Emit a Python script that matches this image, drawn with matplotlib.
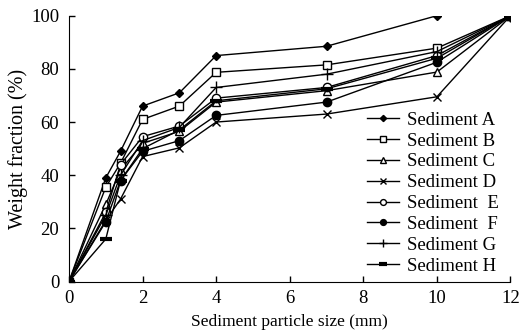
import matplotlib
matplotlib.use("Agg")
import matplotlib.pyplot as plt

plt.rcParams['font.family'] = ['Liberation Serif', 'DejaVu Serif']
plt.rcParams['mathtext.fontset'] = 'stix'

sizes = [0, 1, 1.4, 2, 3, 4, 7, 10, 12]
sizes_a = [0, 1, 1.4, 2, 3, 4, 7, 10]

sed_a = [0, 39, 49, 66, 71, 85, 88.5, 100]
sed_b = [0, 35.5, 44.5, 61, 66, 78.7, 81.5, 87.8, 100]
sed_c = [0, 29, 42, 52, 56.5, 67.5, 71.8, 78.8, 100]
sed_d = [0, 23, 31, 47, 50.3, 60, 63, 69.5, 100]
sed_e = [0, 26, 44, 54.5, 58.5, 69, 73, 85, 100]
sed_f = [0, 22.5, 38, 49, 53, 62.5, 67.5, 82.5, 100]
sed_g = [0, 25, 40, 53, 58, 73, 78, 86.5, 100]
sed_h = [0, 16, 38, 50, 57, 68, 72.5, 84, 100]

labels = ["Sediment A", "Sediment B", "Sediment C", "Sediment D",
          "Sediment  E", "Sediment  F", "Sediment G", "Sediment H"]

x_ticks = [0, 2, 4, 6, 8, 10, 12]
y_ticks = [0, 20, 40, 60, 80, 100]

fig = plt.figure(figsize=(5.2, 3.34), dpi=100)
ax = fig.add_axes([0.1327, 0.157, 0.849, 0.796])

series = [
    (sizes_a, sed_a, dict(marker='D', ms=4.5, mfc='black')),
    (sizes, sed_b, dict(marker='s', ms=6, mfc='white')),
    (sizes, sed_c, dict(marker='^', ms=6, mfc='white')),
    (sizes, sed_d, dict(marker='x', ms=6, mew=1.0)),
    (sizes, sed_e, dict(marker='o', ms=6, mfc='white')),
    (sizes, sed_f, dict(marker='o', ms=6, mfc='black')),
    (sizes, sed_g, dict(marker='+', ms=8, mew=1.0)),
    (sizes, sed_h, dict(marker='_', ms=8, mew=3)),
]
for (xs, ys, st), lab in zip(series, labels):
    ax.plot(xs, ys, color='black', lw=1.0, mec='black', label=lab, **st)

ax.set_xlim(0, 12)
ax.set_ylim(0, 100)
ax.set_xticks(x_ticks)
ax.set_yticks(y_ticks)
ax.spines['top'].set_visible(False)
ax.spines['right'].set_visible(False)
ax.tick_params(direction='in', length=4, labelsize=13.5, width=1)
ax.tick_params(axis='x', pad=6)
ax.tick_params(axis='y', pad=7)
ax.set_xlabel("Sediment particle size (mm)", fontsize=12.5, labelpad=5)
ax.set_ylabel("Weight fraction (%)", fontsize=14.5, labelpad=2)

ax.legend(loc='upper left', bbox_to_anchor=(0.706, 0.666), bbox_transform=fig.transFigure,
          frameon=False, fontsize=13.5, handlelength=1.7, handletextpad=0.43,
          labelspacing=0.2, borderpad=0.0, borderaxespad=0.0, markerscale=0.7)

fig.savefig("out.png", dpi=100)
